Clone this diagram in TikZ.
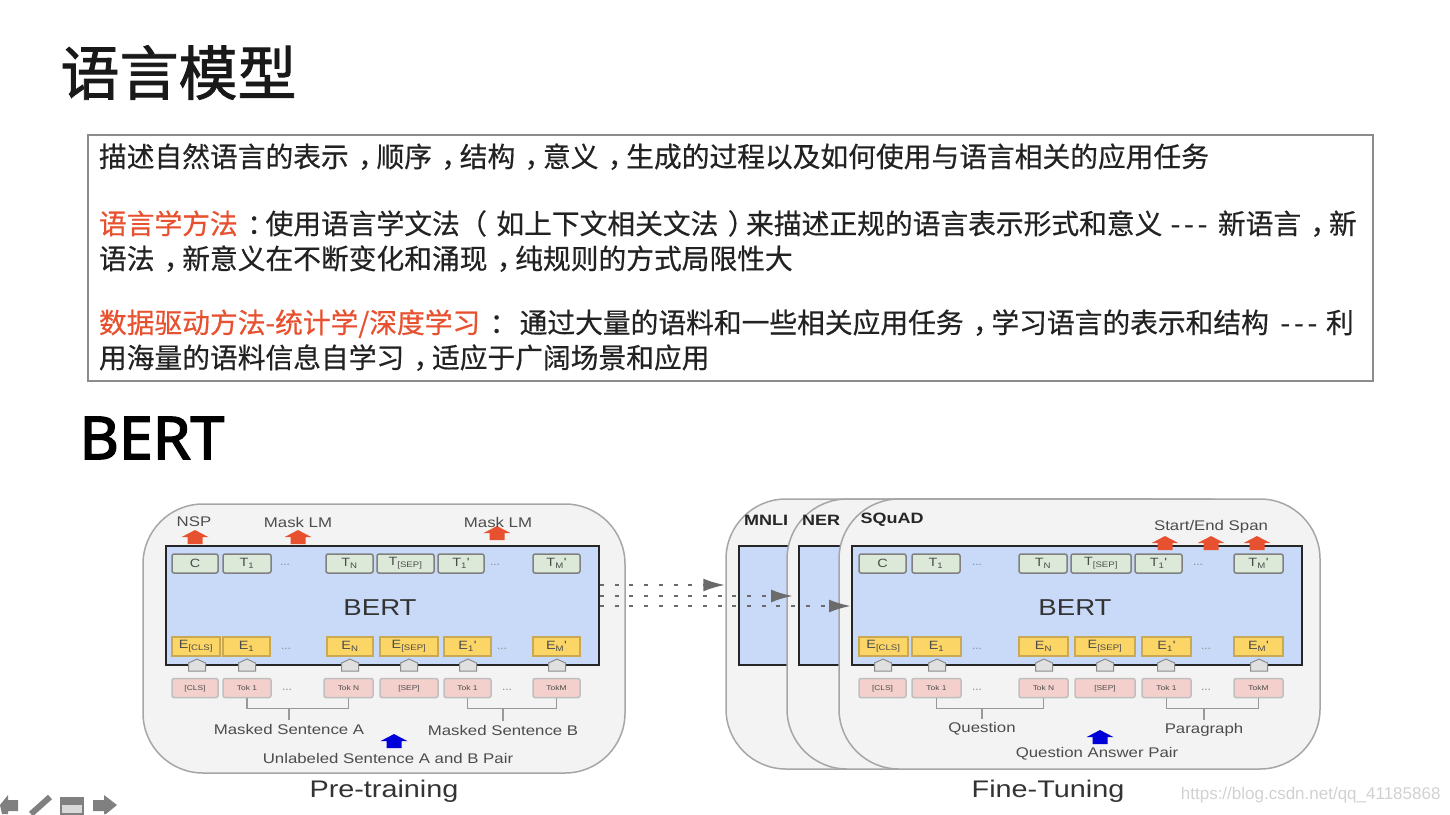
\documentclass[tikz,border=0pt]{standalone}
\usepackage{fontspec}
\setmainfont{Liberation Sans}
\newfontfamily\cjk[FakeBold=0.5]{Noto Sans CJK SC}
\newfontfamily\cjkhead[FakeBold=1.4]{Noto Sans CJK SC}
\newfontfamily\widefont[FakeStretch=1.2]{Liberation Sans}
\newfontfamily\headfont[FakeBold=2.6, FakeStretch=1.03]{Noto Sans}
\newcommand{\pc}[1]{\hspace*{.34em}#1\hspace*{-.34em}}
\newcommand{\po}[1]{\hspace*{-.34em}#1\hspace*{.34em}}
\newcommand{\dashes}{{\addfontfeature{LetterSpace=14}---}}
\usetikzlibrary{arrows.meta, positioning, shapes.geometric, shapes.arrows, shapes.symbols, calc}
\definecolor{cred}{HTML}{E8512F}
\definecolor{cink}{HTML}{222222}
\definecolor{cblue}{HTML}{C9DAF8}
\definecolor{cgreen}{HTML}{DCE9D8}
\definecolor{cyellow}{HTML}{FBD566}
\definecolor{cpink}{HTML}{F4D0CC}
\definecolor{cgrey}{HTML}{6B6B6B}
\definecolor{cpanel}{HTML}{F3F3F3}
\tikzset{
  every picture/.style={line width=1pt},
  panel/.style={draw=black!35, fill=cpanel, line width=1.5pt, rounded corners=60pt, inner sep=0pt},
  bertbox/.style={draw=black!85, fill=cblue, line width=2pt, inner sep=0pt},
  cell/.style={rounded corners=2pt, inner sep=0pt, minimum height=19pt, line width=1.5pt, font=\widefont\fontsize{12}{12}\selectfont, text=black!70},
  tbox/.style={cell, draw=black!50, fill=cgreen},
  ebox/.style={cell, draw=black!20!cyellow, fill=cyellow, rounded corners=0pt},
  tokbox/.style={cell, draw=black!25, fill=cpink, font=\widefont\fontsize{7}{7}\selectfont, text height=5pt, text depth=1pt},
  penta/.style={signal, signal to=north, signal from=nowhere, signal pointer angle=130, draw=black!45, fill=black!12, minimum width=17pt, minimum height=8pt, inner sep=0pt},
  uparrow/.style={single arrow, shape border rotate=90, fill=#1, text width=14pt, minimum height=14pt, single arrow head extend=6pt, single arrow head indent=0pt, single arrow tip angle=125, inner sep=0pt},
  dotarrow/.style={-{Latex[length=22pt, width=13pt]}, draw=cgrey, line width=2.5pt, dash pattern=on 4pt off 10.7pt},
  bracket/.style={draw=black!40, line width=1.3pt},
  lbl/.style={font=\widefont\fontsize{14}{14}\selectfont, text=black!70, inner sep=3pt},
  boldlbl/.style={font=\widefont\bfseries\fontsize{15}{15}\selectfont, text=black!85, inner sep=0pt},
  caption/.style={font=\widefont\fontsize{24}{24}\selectfont, text=black!80, inner sep=0pt},
  bertlbl/.style={font=\widefont\fontsize{23}{23}\selectfont, text=black!80, inner sep=0pt},
  dotlbl/.style={font=\fontsize{12}{12}\selectfont, text=black!45, inner sep=0pt},
  txtline/.style={font=\cjk\fontsize{27.75}{27.75}\selectfont, text=cink, anchor=base west, inner sep=0pt},
}
\begin{document}
\begin{tikzpicture}[x=1pt, y=-1pt]
  \useasboundingbox (0,0) rectangle (1450,814);
  \node[font=\cjkhead\fontsize{59}{59}\selectfont, text=black!90, anchor=base west, inner sep=0pt] (title) at (60,95) {语言模型};
  \node[draw=black!45, fill=white, line width=1.2pt, minimum width=1285pt, minimum height=246pt, inner sep=0pt] (desc) at (730.5,258) {};
  \node[txtline] (lineA) at (98.5,167) {描述自然语言的表示\pc{，}顺序\pc{，}结构\pc{，}意义\pc{，}生成的过程以及如何使用与语言相关的应用任务};
  \node[txtline] (lineB) at (98.5,234) {\textcolor{cred}{语言学方法}\pc{：}使用语言学文法\hspace{.32em}\po{（}如上下文相关文法\pc{）}来描述正规的语言表示形式和意义\hspace{.3em}\dashes\hspace{.38em}新语言\pc{，}新};
  \node[txtline] (lineC) at (98.5,269) {语法\pc{，}新意义在不断变化和涌现\pc{，}纯规则的方式局限性大};
  \node[txtline] (lineD) at (98.5,333) {\textcolor{cred}{数据驱动方法-统计学/深度学习}\pc{：}\hspace{.42em}通过大量的语料和一些相关应用任务\pc{，}学习语言的表示和结构\hspace{.42em}\dashes\hspace{.32em}利};
  \node[txtline] (lineE) at (98.5,368) {用海量的语料信息自学习\pc{，}适应于广阔场景和应用};
  \node[font=\headfont\fontsize{59}{59}\selectfont, text=black, anchor=base west, inner sep=0pt] (bertTitle) at (79,459) {BERT};

  \node[panel, minimum width=482pt, minimum height=269pt] (prePanel) at (384,638.5) {};
  \node[bertbox, minimum width=433pt, minimum height=119pt] (preBert) at (382.5,605.5) {};
  \node[bertlbl] (preName) at (380,608) {BERT};
  \foreach \nm/\x/\w/\lab in {c/195/46/C, a/247/48/T\textsubscript{1}, n/349.5/47/T\textsubscript{N}, s/405.5/57/T\textsubscript{[SEP]}, b/461/46/T\textsubscript{1}', m/556.5/47/T\textsubscript{M}'}
    \node[tbox, minimum width=\w pt] (pt\nm) at (\x,563.5) {\lab};
  \foreach \nm/\x/\w/\lab in {c/196/48/E\textsubscript{[CLS]}, a/246.5/47/E\textsubscript{1}, n/350/46/E\textsubscript{N}, s/409/58/E\textsubscript{[SEP]}, b/467.5/47/E\textsubscript{1}', m/556.5/47/E\textsubscript{M}'}
    \node[ebox, minimum width=\w pt] (pe\nm) at (\x,646.5) {\lab};
  \foreach \nm/\x/\w/\lab in {c/195/46/[CLS], a/247/48/Tok 1, n/348.5/49/Tok N, s/409/58/[SEP], b/467.5/47/Tok 1, m/556.5/47/TokM}
    \node[tokbox, minimum width=\w pt] (pk\nm) at (\x,688) {\lab};
  \foreach \nm/\x in {c/197, a/247, n/350, s/409, b/468, m/557}
    \node[penta] (pp\nm) at (\x,667) {};
  \foreach \nm/\x/\y in {a/285/565, b/495/565, c/286/649, d/502/649, e/287/690, f/507/690}
    \node[dotlbl] (pdot\nm) at (\x,\y) {...};
  \node[lbl] (maskA) at (289,729) {Masked Sentence A};
  \node[lbl] (maskB) at (503,730) {Masked Sentence B};
  \draw[bracket] (pka.south) -- ++(0,10) coordinate (brA) -| (pkn.south);
  \draw[bracket] (pkb.south) -- ++(0,10) coordinate (brB) -| (pkm.south);
  \draw[bracket] (brA -| maskA) -- (maskA.north);
  \draw[bracket] (brB -| maskB) -- (maskB.north);
  \node[uparrow=cred] (nspUp) at (195,539) {};
  \node[uparrow=cred] (lmUpA) at (298,539) {};
  \node[uparrow=cred] (lmUpB) at (497,535) {};
  \node[lbl, inner sep=0pt] (nsp) at (194,522) {NSP};
  \node[lbl, inner sep=0pt] (lmA) at (298,522) {Mask LM};
  \node[lbl, inner sep=0pt] (lmB) at (498,522) {Mask LM};
  \node[uparrow=blue!85!black] (preUp) at (394,743) {};
  \node[lbl, inner sep=0pt] (pair) at (388,758) {Unlabeled Sentence A and B Pair};
  \node[caption] (preCap) at (384,791) {Pre-training};

  \node[panel, minimum width=480pt, minimum height=270pt] (mnliPanel) at (966,634) {};
  \node[bertbox, minimum width=360pt, minimum height=119pt] (mnliBert) at (919,605.5) {};
  \node[boldlbl] (mnli) at (766,520) {MNLI};
  \node[panel, minimum width=480pt, minimum height=270pt] (nerPanel) at (1027,634) {};
  \node[bertbox, minimum width=360pt, minimum height=119pt] (nerBert) at (979,605.5) {};
  \node[boldlbl] (ner) at (821,520) {NER};
  \node[panel, minimum width=481pt, minimum height=270pt] (squadPanel) at (1079.5,634) {};
  \node[bertbox, minimum width=450pt, minimum height=119pt] (squadBert) at (1077,605.5) {};
  \node[boldlbl] (squad) at (892,520) {SQuAD};
  \node[bertlbl] (squadName) at (1075,608) {BERT};
  \foreach \nm/\x/\w/\lab in {c/882.5/47/C, a/936/48/T\textsubscript{1}, n/1043/48/T\textsubscript{N}, s/1101/60/T\textsubscript{[SEP]}, b/1158.5/47/T\textsubscript{1}', m/1258.5/49/T\textsubscript{M}'}
    \node[tbox, minimum width=\w pt] (qt\nm) at (\x,563.5) {\lab};
  \foreach \nm/\x/\w/\lab in {c/883.5/49/E\textsubscript{[CLS]}, a/936.5/49/E\textsubscript{1}, n/1043.5/49/E\textsubscript{N}, s/1105/60/E\textsubscript{[SEP]}, b/1166.5/49/E\textsubscript{1}', m/1258.5/49/E\textsubscript{M}'}
    \node[ebox, minimum width=\w pt] (qe\nm) at (\x,646.5) {\lab};
  \foreach \nm/\x/\w/\lab in {c/882.5/47/[CLS], a/936.5/49/Tok 1, n/1043.5/49/Tok N, s/1105/60/[SEP], b/1166.5/49/Tok 1, m/1258.5/49/TokM}
    \node[tokbox, minimum width=\w pt] (qk\nm) at (\x,688) {\lab};
  \foreach \nm/\x in {c/883, a/937, n/1044, s/1105, b/1166, m/1259}
    \node[penta] (qp\nm) at (\x,667) {};
  \foreach \nm/\x/\y in {a/977/565, b/1198/565, c/977/649, d/1206/649, e/977/690, f/1206/690}
    \node[dotlbl] (qdot\nm) at (\x,\y) {...};
  \node[lbl] (question) at (982,729) {Question};
  \node[lbl] (paragraph) at (1204,730) {Paragraph};
  \draw[bracket] (qka.south) -- ++(0,10) coordinate (brC) -| (qkn.south);
  \draw[bracket] (qkb.south) -- ++(0,10) coordinate (brD) -| (qkm.south);
  \draw[bracket] (brC -| question) -- (question.north);
  \draw[bracket] (brD -| paragraph) -- (paragraph.north);
  \node[uparrow=cred] (spanUpA) at (1165,545) {};
  \node[uparrow=cred] (spanUpB) at (1211,545) {};
  \node[uparrow=cred] (spanUpC) at (1257,545) {};
  \node[lbl, inner sep=0pt] (span) at (1211,527) {Start/End Span};
  \node[uparrow=blue!85!black] (qaUp) at (1100,739) {};
  \node[lbl, inner sep=0pt] (qaPair) at (1097,754) {Question Answer Pair};
  \node[caption] (fineCap) at (1048,791) {Fine-Tuning};

  \draw[dotarrow] (preBert.east |- 0,585) -- (mnliPanel.west |- 0,585);
  \draw[dotarrow, shorten >=5pt] (preBert.east |- 0,596) -- (nerBert.west |- 0,596);
  \draw[dotarrow] (preBert.east |- 0,606) -- (squadBert.west |- 0,606);

  \node[font=\fontsize{17}{17}\selectfont, text=black!18, anchor=east, inner sep=0pt] (mark) at (1441,795) {https://blog.csdn.net/qq\_41185868};
  \fill[black!50] (0,805) -- (8,795) -- (8,800) -- (18,800) -- (18,811) -- (8,811) -- (8,814) -- (2,814) -- cycle;
  \draw[black!50, line width=6pt] (31,814) -- (50,797);
  \draw[black!50, line width=2.5pt, fill=black!15] (61,798) rectangle (83,814);
  \fill[black!50] (61,798) rectangle (83,805);
  \fill[black!50] (93,800) -- (104,800) -- (104,795) -- (117,805) -- (106,814) -- (104,814) -- (104,811) -- (93,811) -- cycle;
\end{tikzpicture}
\end{document}
